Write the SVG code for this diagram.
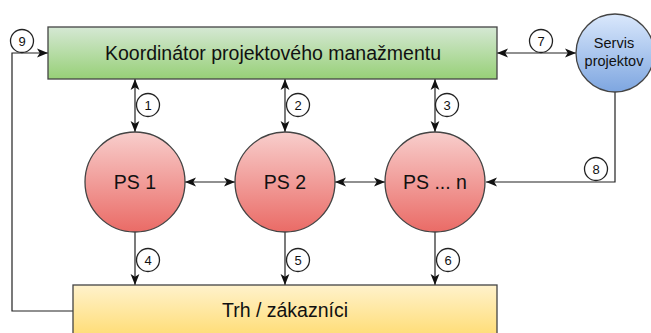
<svg xmlns="http://www.w3.org/2000/svg" width="651" height="333" viewBox="0 0 651 333">
  <defs>
    <linearGradient id="gGreen" x1="0" y1="0" x2="0" y2="1">
      <stop offset="0" stop-color="#d5e8d4"/>
      <stop offset="1" stop-color="#97d077"/>
    </linearGradient>
    <linearGradient id="gRed" x1="0" y1="0" x2="0" y2="1">
      <stop offset="0" stop-color="#f8cecc"/>
      <stop offset="1" stop-color="#ea6b66"/>
    </linearGradient>
    <linearGradient id="gBlue" x1="0" y1="0" x2="0" y2="1">
      <stop offset="0" stop-color="#dae8fc"/>
      <stop offset="1" stop-color="#7ea6e0"/>
    </linearGradient>
    <linearGradient id="gYellow" x1="0" y1="0" x2="0" y2="1">
      <stop offset="0" stop-color="#fff2cc"/>
      <stop offset="1" stop-color="#ffd966"/>
    </linearGradient>
    <marker id="arr" viewBox="0 0 10 10" refX="10" refY="5" markerUnits="userSpaceOnUse" markerWidth="11" markerHeight="11" orient="auto-start-reverse">
      <path d="M0,1 L10,5 L0,9 L2.5,5 z" fill="#111"/>
    </marker>
    <style>
      .node { stroke: #444; stroke-width: 1.3; }
      .big { font-family: "Liberation Sans", Arial, sans-serif; font-size: 19.5px; fill: #111; text-anchor: middle; }
      .small { font-family: "Liberation Sans", Arial, sans-serif; font-size: 14.5px; fill: #111; text-anchor: middle; }
      .conn { fill: none; stroke: #222; stroke-width: 1.2; }
      .lbl circle { fill: #fff; stroke: #222; stroke-width: 1.3; }
      .lbl text { font-family: "Liberation Sans", Arial, sans-serif; font-size: 13px; fill: #111; text-anchor: middle; }
    </style>
  </defs>
  <rect width="651" height="333" fill="#fff"/>

  <g id="connectors">
    <line class="conn" x1="135" y1="79" x2="135" y2="132" marker-start="url(#arr)" marker-end="url(#arr)"/>
    <line class="conn" x1="285" y1="79" x2="285" y2="132" marker-start="url(#arr)" marker-end="url(#arr)"/>
    <line class="conn" x1="435" y1="79" x2="435" y2="132" marker-start="url(#arr)" marker-end="url(#arr)"/>
    <line class="conn" x1="185" y1="182" x2="235" y2="182" marker-start="url(#arr)" marker-end="url(#arr)"/>
    <line class="conn" x1="335" y1="182" x2="385" y2="182" marker-start="url(#arr)" marker-end="url(#arr)"/>
    <line class="conn" x1="135" y1="232" x2="135" y2="285" marker-end="url(#arr)"/>
    <line class="conn" x1="285" y1="232" x2="285" y2="285" marker-end="url(#arr)"/>
    <line class="conn" x1="435" y1="232" x2="435" y2="285" marker-end="url(#arr)"/>
    <line class="conn" x1="497" y1="53" x2="576" y2="53" marker-start="url(#arr)" marker-end="url(#arr)"/>
    <path class="conn" d="M615,92 V182 H486" marker-end="url(#arr)"/>
    <path class="conn" d="M73,311 H12 V53 H48" marker-end="url(#arr)"/>
    <g class="lbl">
      <circle cx="148" cy="105" r="11.5"/><text x="148" y="109.5">1</text>
      <circle cx="298" cy="105" r="11.5"/><text x="298" y="109.5">2</text>
      <circle cx="447" cy="105" r="11.5"/><text x="447" y="109.5">3</text>
      <circle cx="148" cy="260" r="11.5"/><text x="148" y="264.5">4</text>
      <circle cx="298" cy="260" r="11.5"/><text x="298" y="264.5">5</text>
      <circle cx="448" cy="260" r="11.5"/><text x="448" y="264.5">6</text>
      <circle cx="541" cy="41" r="11.5"/><text x="541" y="45.5">7</text>
      <circle cx="596" cy="169" r="11.5"/><text x="596" y="173.5">8</text>
      <circle cx="22" cy="41" r="11.5"/><text x="22" y="45.5">9</text>
    </g>
  </g>

  <g id="koordinator">
    <rect class="node" x="48" y="27" width="449" height="52" fill="url(#gGreen)"/>
    <text class="big" x="273" y="59.5">Koordinátor projektového manažmentu</text>
  </g>
  <g id="servis">
    <circle class="node" cx="615" cy="53" r="39" fill="url(#gBlue)"/>
    <text class="small" x="614" y="48">Servis</text>
    <text class="small" x="614" y="66">projektov</text>
  </g>
  <g id="ps1">
    <circle class="node" cx="135" cy="182" r="50" fill="url(#gRed)"/>
    <text class="big" x="135" y="189">PS 1</text>
  </g>
  <g id="ps2">
    <circle class="node" cx="285" cy="182" r="50" fill="url(#gRed)"/>
    <text class="big" x="285" y="189">PS 2</text>
  </g>
  <g id="psn">
    <circle class="node" cx="435" cy="182" r="50" fill="url(#gRed)"/>
    <text class="big" x="435" y="189">PS ... n</text>
  </g>
  <g id="trh">
    <rect class="node" x="73" y="285" width="424" height="60" fill="url(#gYellow)"/>
    <text class="big" x="285" y="317">Trh / zákazníci</text>
  </g>
</svg>
